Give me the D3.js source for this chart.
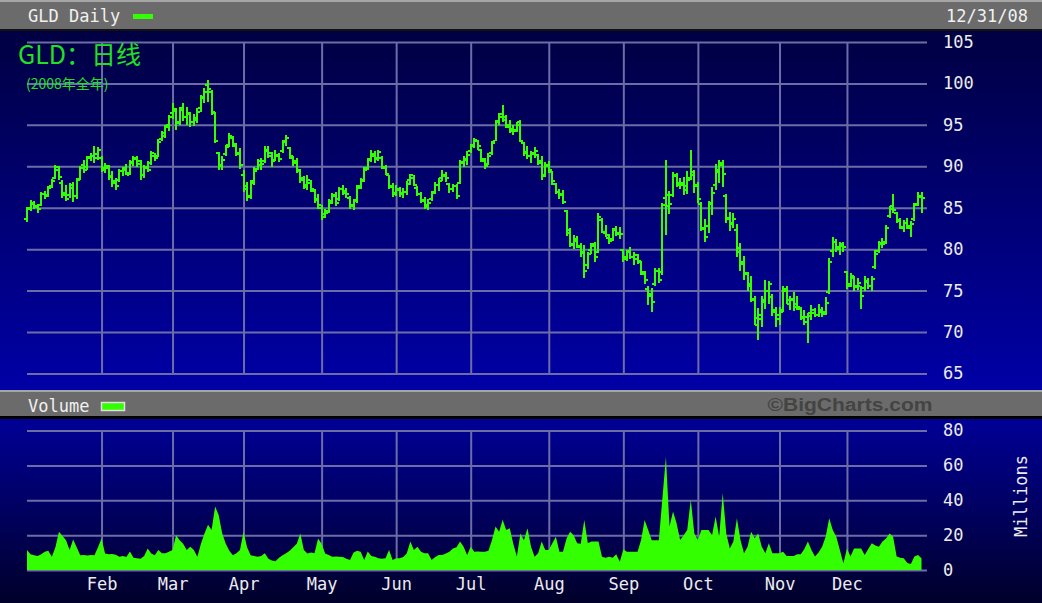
<!DOCTYPE html>
<html><head><meta charset="utf-8">
<script src="https://cdn.jsdelivr.net/npm/d3@7"></script>
<style>body{margin:0;background:#000;}svg{display:block;}</style>
</head><body>
<script>
// ---- DATA ----
const holidays = ["2008-01-01","2008-01-21","2008-02-18","2008-03-21","2008-05-26","2008-07-04","2008-09-01","2008-11-27","2008-12-25"];
const monthLabels = ["Feb","Mar","Apr","May","Jun","Jul","Aug","Sep","Oct","Nov","Dec"];
const priceTicks = [65,70,75,80,85,90,95,100,105];
const volumeTicks = [0,20,40,60,80];

const open = [
83.6,85.0,85.4,85.1,85.3,86.6,86.5,87.6,88.6,89.9,88.0,86.8,86.5,87.4,86.4,88.5,90.2,89.9,91.1,91.3,91.5,
91.0,89.6,89.8,88.7,88.2,88.3,89.4,89.8,89.0,90.4,90.9,90.6,89.0,89.9,90.4,91.2,91.3,93.3,94.0,95.0,
96.4,96.7,95.3,97.0,95.9,96.3,95.4,95.8,97.0,98.4,99.8,99.0,96.4,91.6,90.2,91.5,92.6,93.4,92.4,91.5,
88.9,87.6,86.3,88.2,89.7,90.2,90.6,92.0,91.3,90.8,91.3,91.8,93.0,92.2,91.0,90.6,89.4,88.6,87.7,88.0,87.0,86.0,
85.0,84.2,84.6,85.8,86.4,86.0,87.3,86.8,86.2,85.3,85.9,87.6,88.4,89.8,90.9,91.3,91.0,91.0,89.8,88.9,87.6,
86.8,87.1,86.8,86.9,88.3,88.6,87.4,86.6,85.8,85.3,86.0,86.9,87.7,88.6,89.0,87.9,87.3,87.6,88.0,90.5,90.8,
91.8,92.6,93.0,92.0,90.6,90.3,91.6,93.1,95.5,96.3,95.6,94.8,94.5,94.4,95.3,92.8,91.7,91.2,91.5,91.4,90.6,88.9,
90.0,89.3,87.9,86.9,86.6,84.6,82.3,80.5,81.0,80.3,79.6,78.1,79.9,80.6,79.7,83.5,82.0,81.3,81.2,82.4,81.8,
79.9,79.0,79.8,79.0,78.8,78.4,77.0,75.2,74.4,75.8,77.4,77.2,86.2,85.2,86.5,88.8,87.8,88.0,87.6,88.4,89.3,
87.8,85.5,82.4,82.8,85.6,87.8,89.3,90.4,86.4,83.8,83.2,82.3,80.1,78.4,77.0,75.8,73.8,70.8,72.0,73.6,75.0,74.2,72.6,
72.0,72.6,75.2,73.4,74.0,73.4,72.8,71.7,71.2,72.3,72.6,72.0,72.6,72.4,74.8,79.8,80.9,80.0,80.4,
77.2,75.8,76.5,75.6,75.5,75.3,76.0,75.6,77.8,79.8,80.6,80.8,84.0,85.2,84.3,83.4,82.7,83.1,82.6,83.6,85.5,86.3];

const high = [
85.1,85.9,85.8,85.5,86.9,87.0,87.6,88.5,90.2,90.0,88.3,87.8,88.0,88.1,88.6,90.0,90.8,91.2,91.6,92.4,92.3,
91.2,90.4,90.1,89.4,88.6,89.7,89.9,90.3,90.8,91.3,91.2,90.8,90.1,90.6,91.8,91.6,93.3,94.2,95.0,96.2,
97.6,97.0,97.2,97.6,97.2,96.6,96.3,97.0,98.6,99.4,100.4,99.2,96.5,91.7,91.2,92.6,94.0,93.7,92.8,92.2,
89.5,88.1,88.4,89.9,90.9,91.0,92.4,92.4,91.7,92.0,91.6,93.2,93.8,92.3,91.3,91.0,89.7,88.8,88.9,88.3,87.3,86.7,
85.3,84.9,86.0,86.8,86.9,87.5,87.7,87.4,86.4,86.0,87.7,88.6,89.9,91.0,92.0,91.9,92.0,91.2,90.1,89.0,88.0,
87.7,87.5,87.4,88.2,89.1,89.0,87.6,86.9,86.3,86.0,87.0,88.1,88.6,89.5,89.3,88.0,87.9,87.9,90.8,91.2,91.8,
92.7,93.4,93.2,92.1,91.0,91.6,93.0,95.6,96.4,97.4,96.2,95.6,95.0,95.3,95.6,92.9,92.4,91.8,92.3,91.5,91.2,90.5,
90.6,89.4,88.0,87.3,87.1,84.7,82.6,81.7,81.6,80.7,80.5,79.7,80.7,80.8,84.3,83.7,82.9,81.8,82.6,82.8,82.7,
80.0,79.9,80.3,79.6,79.4,78.6,77.4,75.5,75.3,77.7,77.7,85.6,90.7,87.0,89.3,89.2,88.6,88.7,89.4,92.0,89.6,
88.1,85.7,83.6,85.8,87.5,90.3,90.7,90.7,86.6,84.5,84.3,83.0,80.7,79.2,77.2,76.7,74.4,72.9,74.3,76.3,76.2,74.6,73.0,
73.0,75.6,75.5,74.4,74.8,74.4,73.0,72.6,72.3,73.2,72.9,73.4,73.0,74.2,78.9,81.5,81.2,80.9,80.8,
77.3,77.1,76.8,76.5,75.6,76.7,76.5,76.7,79.9,81.0,81.4,82.9,85.2,86.7,84.5,83.8,83.5,83.7,83.4,85.6,86.9,86.9];

const low = [
83.3,84.6,84.8,84.4,85.2,86.0,86.3,87.4,88.5,88.3,86.2,85.8,86.2,85.7,86.0,88.3,89.2,89.6,90.6,90.4,90.8,
89.3,89.2,88.4,87.5,87.1,88.1,88.8,88.9,88.9,90.0,89.9,88.3,88.6,89.3,90.2,90.6,91.1,93.0,93.4,94.3,
95.7,94.4,95.0,95.5,95.0,94.8,94.9,95.2,96.6,97.6,97.8,96.2,92.8,89.6,89.5,91.2,92.3,92.3,91.2,89.7,
86.9,85.8,86.0,87.8,89.5,89.5,90.4,91.0,89.9,90.6,90.5,91.6,92.4,90.9,90.0,89.2,88.0,87.2,87.1,86.9,85.6,84.9,
83.5,83.8,84.4,85.5,85.2,85.8,86.5,86.2,84.9,84.7,85.6,87.3,88.1,89.5,90.5,90.4,90.6,89.7,88.9,87.2,86.3,
86.4,86.3,86.2,86.5,87.8,87.6,86.4,85.6,84.8,84.7,85.8,86.6,87.0,88.2,88.1,86.8,86.9,86.1,87.9,89.9,90.2,
91.6,92.2,92.0,90.5,89.7,90.1,91.4,93.0,95.0,95.4,94.6,94.0,93.8,94.1,92.9,91.3,90.9,90.4,91.0,90.1,88.3,88.7,
89.2,87.8,86.6,86.0,85.4,81.6,80.2,80.0,80.1,79.1,76.5,77.6,79.4,78.5,79.5,81.9,81.5,80.6,81.0,81.6,81.2,
78.4,78.6,78.8,78.1,78.2,76.9,75.8,73.2,72.4,75.6,75.9,76.9,81.7,84.2,86.3,87.5,87.2,86.5,86.7,88.3,86.8,
85.6,82.2,80.9,82.0,84.1,87.1,88.0,87.5,83.1,82.2,82.6,79.0,77.4,76.3,75.0,73.6,70.8,69.0,70.6,72.8,73.4,71.9,70.6,
70.8,72.4,73.4,72.6,72.5,72.7,71.4,70.9,68.7,71.5,71.8,71.8,71.8,72.0,74.6,79.1,79.6,79.3,79.7,
75.2,75.4,75.0,75.1,72.8,75.0,75.2,75.0,77.6,79.5,80.1,80.6,83.8,84.4,83.2,82.4,82.1,82.4,81.5,83.4,85.2,84.4];

const close = [
84.9,85.6,85.2,84.9,86.6,86.4,87.4,88.2,89.6,88.7,86.5,86.1,87.7,86.4,88.3,89.8,89.6,91.0,91.2,91.0,92.0,
89.8,90.0,88.8,88.0,87.6,89.4,89.6,89.2,90.5,91.0,90.3,88.9,89.8,89.6,91.6,91.0,92.9,93.7,94.7,96.0,
96.9,95.2,96.8,96.0,96.4,95.3,95.6,96.6,98.2,99.0,99.3,96.6,93.0,90.0,90.8,92.3,93.6,92.7,91.6,90.2,
87.3,86.4,88.0,89.4,90.6,90.3,91.8,91.6,90.6,91.4,90.9,92.9,93.4,91.2,90.4,89.6,88.3,87.5,88.4,87.2,85.9,85.3,
83.9,84.3,85.6,86.5,85.6,87.2,87.0,86.6,85.2,85.8,87.4,88.2,89.6,90.7,91.5,90.9,91.7,89.9,89.1,87.5,86.6,
87.3,86.6,86.9,87.9,88.9,87.8,86.7,85.9,85.1,85.6,86.8,87.7,88.2,88.8,88.6,87.2,87.6,86.4,90.4,90.9,91.4,
92.4,93.2,92.4,90.9,90.0,91.3,92.8,95.3,96.0,96.0,95.0,94.3,94.2,95.0,93.1,91.6,91.3,91.6,91.9,90.4,88.8,90.2,
89.6,88.2,86.9,86.5,85.7,82.0,80.6,81.2,80.4,79.5,77.3,79.4,80.4,79.0,83.9,82.1,81.7,81.0,82.3,82.0,81.8,
78.8,79.6,79.1,79.3,78.6,77.2,76.3,74.6,73.6,77.3,76.3,85.3,86.5,85.5,89.0,88.0,87.7,87.1,88.6,89.0,87.6,
86.1,82.6,81.5,85.4,86.8,89.6,90.2,89.1,83.6,83.0,83.6,79.6,78.2,77.1,75.6,74.0,71.7,71.6,73.9,75.0,75.8,72.4,71.6,
72.4,75.0,73.8,73.9,73.0,73.0,71.8,71.8,71.9,72.3,72.1,72.4,72.2,73.5,78.5,80.9,80.3,80.6,80.2,
75.6,76.8,75.4,75.9,74.4,76.2,75.5,76.4,79.4,80.7,80.6,82.6,84.9,84.7,83.5,82.6,83.2,82.8,83.0,85.3,86.4,86.2];

const volume = [
11.4,9.0,8.5,8.0,9.0,10.5,11.0,7.6,13.0,22.0,19.5,17.0,11.4,17.5,13.0,8.5,8.6,8.3,8.6,8.4,13.0,
18.0,9.5,9.0,9.2,8.8,7.6,8.0,7.5,10.6,7.0,6.7,6.5,8.0,12.4,9.5,8.5,11.4,9.6,9.6,10.5,
11.4,20.0,17.0,15.0,11.4,13.3,11.4,7.6,15.0,21.0,26.0,23.0,36.4,31.6,21.0,15.0,11.0,8.5,9.6,11.4,
22.0,13.0,8.5,8.0,7.6,8.0,9.6,6.5,5.5,5.0,7.0,8.5,9.6,11.0,13.0,15.0,21.0,11.4,9.5,10.0,9.6,18.0,
15.0,9.5,8.6,7.6,7.8,7.6,7.5,6.5,5.7,10.0,11.0,10.5,5.8,10.6,8.0,7.6,6.7,6.5,6.8,11.4,5.8,
6.7,6.7,7.5,9.6,16.3,11.4,13.3,10.5,9.6,9.6,5.8,7.5,8.6,8.6,9.5,10.5,12.4,13.0,16.3,13.3,8.6,
13.3,10.5,10.6,10.4,10.5,11.0,17.2,25.0,22.0,28.8,23.0,24.0,15.0,7.7,21.0,17.0,24.0,13.4,7.6,9.6,16.3,11.4,
11.4,15.3,19.1,10.5,10.5,18.0,22.0,20.0,15.3,15.0,28.7,15.3,16.3,16.3,16.3,7.6,7.0,7.6,7.0,9.0,4.8,
11.8,10.5,10.5,10.5,10.5,17.2,28.7,23.0,17.0,17.0,17.0,41.0,65.0,25.0,33.6,26.8,17.2,20.0,23.0,40.3,21.0,
17.2,23.0,23.0,23.0,20.0,30.7,19.0,44.1,21.0,12.4,16.3,29.7,17.2,9.6,13.4,22.0,18.2,21.0,13.4,9.6,15.3,9.6,9.6,
9.6,10.5,8.0,8.0,8.0,9.0,9.0,12.0,16.3,11.4,7.7,10.0,13.4,19.0,29.7,23.0,19.0,11.4,3.8,
12.4,7.7,12.4,12.4,12.4,8.6,12.0,15.3,14.0,13.4,16.3,18.0,21.0,19.0,7.7,7.0,6.7,4.0,3.5,7.7,8.6,6.7];

// ---- TRADING DAYS ----
const fmt = d3.timeFormat("%Y-%m-%d");
const days = d3.timeDay.range(new Date(2008,0,1), new Date(2009,0,1))
  .filter(d => d.getDay() !== 0 && d.getDay() !== 6 && !holidays.includes(fmt(d)));
const bars = days.map((d,i) => ({date:d, key:fmt(d), o:open[i], h:high[i], l:low[i], c:close[i], v:volume[i]}));
const monthStarts = d3.range(1,12).map(m => bars.find(b => b.date.getMonth() === m));

// ---- LAYOUT ----
const W = 1042, H = 603;
const svg = d3.select("body").append("svg").attr("width", W).attr("height", H)
  .style("font-family", "'DejaVu Sans Mono', monospace");
const defs = svg.append("defs");
const g1 = defs.append("linearGradient").attr("id","gp").attr("x1",0).attr("y1",0).attr("x2",0).attr("y2",1);
g1.append("stop").attr("offset","0%").attr("stop-color","#000042");
g1.append("stop").attr("offset","100%").attr("stop-color","#0000a6");
const g2 = defs.append("linearGradient").attr("id","gv").attr("x1",0).attr("y1",0).attr("x2",0).attr("y2",1);
g2.append("stop").attr("offset","0%").attr("stop-color","#000096");
g2.append("stop").attr("offset","100%").attr("stop-color","#00002a");

// header bars
svg.append("rect").attr("x",0).attr("y",0).attr("width",W).attr("height",30).attr("fill","#6b6b6b");
svg.append("rect").attr("x",0).attr("y",0).attr("width",W).attr("height",2).attr("fill","#a6a6a6");
svg.append("rect").attr("x",0).attr("y",29).attr("width",W).attr("height",2).attr("fill","#111");
svg.append("rect").attr("x",0).attr("y",31).attr("width",W).attr("height",359).attr("fill","url(#gp)");
svg.append("rect").attr("x",0).attr("y",390).attr("width",W).attr("height",27).attr("fill","#6b6b6b");
svg.append("rect").attr("x",0).attr("y",390).attr("width",W).attr("height",2).attr("fill","#a6a6a6");
svg.append("rect").attr("x",0).attr("y",416).attr("width",W).attr("height",3).attr("fill","#000");
svg.append("rect").attr("x",0).attr("y",419).attr("width",W).attr("height",H-419).attr("fill","url(#gv)");

// scales
const x = d3.scalePoint().domain(bars.map(b => b.key)).range([27, 921.5]);
const y = d3.scaleLinear().domain([65,105]).range([373.4, 42]);
const yv = d3.scaleLinear().domain([0,80]).range([570, 430.5]);
const gridColor = "#6c6ca6";
const left = 27, right = 927;

// price grid via axes
svg.append("g").attr("transform",`translate(${right},0)`)
  .call(d3.axisLeft(y).tickValues(priceTicks).tickSize(right-left).tickFormat(""))
  .call(g => { g.select(".domain").remove(); g.selectAll("line").attr("stroke",gridColor).attr("stroke-width",2); });
svg.append("g").attr("transform",`translate(0,${y(65)})`)
  .call(d3.axisTop(x).tickValues(monthStarts.map(b=>b.key)).tickSize(y(65)-y(105)).tickFormat(""))
  .call(g => { g.select(".domain").remove(); g.selectAll("line").attr("stroke",gridColor).attr("stroke-width",2); });
// volume grid
svg.append("g").attr("transform",`translate(${right},0)`)
  .call(d3.axisLeft(yv).tickValues(volumeTicks).tickSize(right-left).tickFormat(""))
  .call(g => { g.select(".domain").remove(); g.selectAll("line").attr("stroke",gridColor).attr("stroke-width",2); });
svg.append("g").attr("transform",`translate(0,${yv(0)})`)
  .call(d3.axisTop(x).tickValues(monthStarts.map(b=>b.key)).tickSize(yv(0)-yv(80)).tickFormat(""))
  .call(g => { g.select(".domain").remove(); g.selectAll("line").attr("stroke",gridColor).attr("stroke-width",2); });

// axis labels
const labelColor = "#ececec";
svg.append("g").attr("transform",`translate(943,0)`)
  .call(d3.axisRight(y).tickValues(priceTicks).tickSize(0).tickPadding(0))
  .call(g => { g.select(".domain").remove(); g.selectAll("text").attr("fill",labelColor).attr("font-size",17).attr("font-family","'DejaVu Sans Mono', monospace"); });
svg.append("g").attr("transform",`translate(943,0)`)
  .call(d3.axisRight(yv).tickValues(volumeTicks).tickSize(0).tickPadding(0))
  .call(g => { g.select(".domain").remove(); g.selectAll("text").attr("fill",labelColor).attr("font-size",17).attr("font-family","'DejaVu Sans Mono', monospace"); });
svg.append("g").attr("transform",`translate(0,578)`)
  .call(d3.axisBottom(x).tickValues(monthStarts.map(b=>b.key)).tickSize(0).tickPadding(0)
    .tickFormat((k,i) => monthLabels[i]))
  .call(g => { g.select(".domain").remove(); g.selectAll("text").attr("fill",labelColor).attr("font-size",17).attr("font-family","'DejaVu Sans Mono', monospace"); });
svg.append("text").attr("transform","translate(1027,496) rotate(-90)").attr("text-anchor","middle")
  .attr("fill",labelColor).attr("font-size",17).text("Millions");

// header texts
svg.append("text").attr("x",28).attr("y",22).attr("fill","#f0f0f0").attr("font-size",17).text("GLD Daily");
svg.append("rect").attr("x",133).attr("y",14).attr("width",20).attr("height",5).attr("fill","#33ff00");
svg.append("text").attr("x",1028).attr("y",22).attr("text-anchor","end").attr("fill","#f0f0f0").attr("font-size",17).text("12/31/08");
svg.append("text").attr("x",28).attr("y",412).attr("fill","#f0f0f0").attr("font-size",17).text("Volume");
svg.append("rect").attr("x",101.5).attr("y",402.5).attr("width",23).attr("height",8).attr("fill","#33ff00").attr("stroke","#e0e0e0").attr("stroke-width",1.5);
svg.append("text").attr("x",850).attr("y",411).attr("text-anchor","middle").attr("fill","#444")
  .attr("font-family","'Liberation Sans', Arial, sans-serif").attr("font-weight","bold").attr("font-size",18)
  .attr("textLength",165).attr("lengthAdjust","spacingAndGlyphs").text("©BigCharts.com");

// title overlay
svg.append("text").attr("x",18).attr("y",64).attr("fill","#22e022")
  .attr("font-family","'Noto Sans CJK SC', sans-serif").attr("font-size",25).text("GLD：日线");
svg.append("text").attr("x",26).attr("y",89).attr("fill","#22e022")
  .attr("font-family","'Noto Sans CJK SC', sans-serif").attr("font-size",14).text("(2008年全年)");

// volume area
const area = d3.area().x(b => x(b.key)).y0(yv(0)).y1(b => yv(b.v)).curve(d3.curveLinear);
svg.append("path").datum(bars).attr("d", area).attr("fill","#33ff00");

// OHLC bars
const barColor = "#33ff00";
const gb = svg.append("g").attr("fill", barColor).attr("shape-rendering","crispEdges");
gb.selectAll("rect.hl").data(bars).join("rect").attr("class","hl")
  .attr("x", b => Math.round(x(b.key)) - 1).attr("width", 2)
  .attr("y", b => y(b.h)).attr("height", b => Math.max(2, y(b.l) - y(b.h)));
gb.selectAll("rect.op").data(bars).join("rect").attr("class","op")
  .attr("x", b => Math.round(x(b.key)) - 3).attr("width", 2)
  .attr("y", b => y(b.o) - 1).attr("height", 2);
gb.selectAll("rect.cl").data(bars).join("rect").attr("class","cl")
  .attr("x", b => Math.round(x(b.key)) + 1).attr("width", 2)
  .attr("y", b => y(b.c) - 1).attr("height", 2);
</script>
</body></html>
